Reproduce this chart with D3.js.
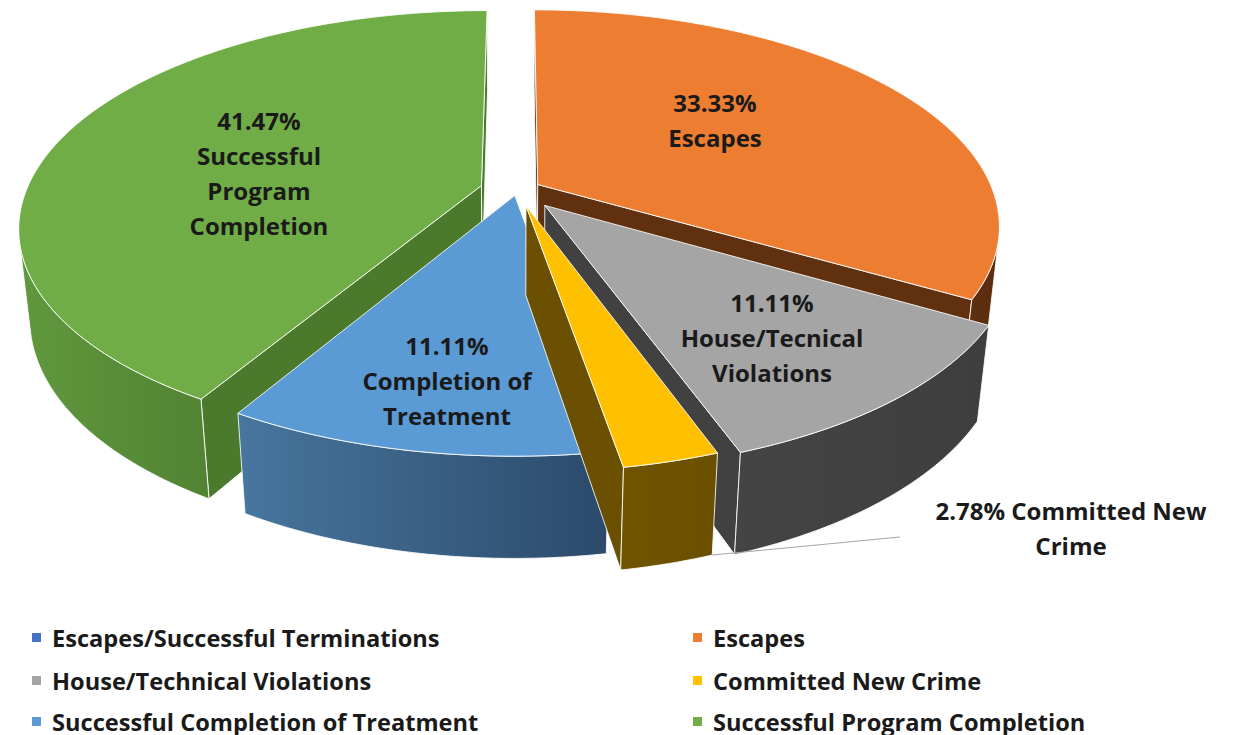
<!DOCTYPE html>
<html>
<head>
<meta charset="utf-8">
<script src="https://cdn.jsdelivr.net/npm/d3@7"></script>
<style>
  body { margin: 0; background: #fff; }
  text { font-family: "Open Sans", Lato, sans-serif; font-weight: bold; }
</style>
</head>
<body>
<div id="chart"></div>
<script>
// 3d exploded pie - outcomes

const categories = ["Escapes/Successful Terminations", "Escapes", "House/Technical Violations",
  "Committed New Crime", "Successful Completion of Treatment", "Successful Program Completion"];
const values = [0, 33.33, 11.11, 2.78, 11.11, 41.47];
const labelNames = ["", "Escapes", "House/Tecnical|Violations", "Committed New|Crime", "Completion of|Treatment",
  "Successful|Program|Completion"];
const topColors = ["#4472C4", "#ED7D31", "#A5A5A5", "#FFC000", "#5B9BD5", "#70AD47"];
// side shading: outer wall left -> right, and the cut faces
const wallLeft = ["#2F5597", "#5F2F10", "#444444", "#6F5400", "#47769F", "#61983D"];
const wallRight = ["#2F5597", "#5B2C0E", "#3E3E3E", "#6A5000", "#2C4A6A", "#518333"];
const cutColor = ["#2F5597", "#60300F", "#414141", "#6A5000", "#3A6290", "#4B7A2D"];
const explode = [0, 24, 43, 35, 12, 37];

const width = 1238, height = 735;
const cx = 517, cy = 190, R = 455, h = 102;
const phi = 27.4 * Math.PI / 180, sinP = Math.sin(phi), cosP = Math.cos(phi);
const D = 2148;

function proj(X, Y, Z) {
  const d = Z * cosP + Y * sinP;
  const s = D / (D - d);
  return [cx + X * s, cy + (Z * sinP - Y * cosP) * s];
}

const svg = d3.select("#chart").append("svg")
  .attr("width", width)
  .attr("height", height);
const defs = svg.append("defs");

const arcs = d3.pie().sort(null).value(d => d)(values);
const line = d3.line();
const edge = sel => sel.attr("stroke", "#fff").attr("stroke-opacity", 0.85).attr("stroke-width", 1);

const slices = arcs.map((a, i) => {
  const mid = (a.startAngle + a.endAngle) / 2;
  const e = explode[i];
  const ox = e * Math.sin(mid), oz = -e * Math.cos(mid);
  return {i, a0: a.startAngle, a1: a.endAngle, mid, ox, oz, depth: oz - R * Math.cos(mid), value: a.value};
}).filter(s => s.value > 0)
  .sort((p, q) => p.depth - q.depth);

function visible(nx, nz, px, pz) {
  // camera sits at (0, D sinP, D cosP)
  return nx * (0 - px) + nz * (D * cosP - pz) > 0;
}

slices.forEach(s => {
  const g = svg.append("g");
  const rim = (th, Y) => proj(s.ox + R * Math.sin(th), Y, s.oz - R * Math.cos(th));
  const apex = Y => proj(s.ox, Y, s.oz);

  // cut faces
  [[s.a0, -1], [s.a1, 1]].forEach(([a, sg]) => {
    const nx = sg * Math.cos(a), nz = sg * Math.sin(a);
    if (!visible(nx, nz, s.ox, s.oz)) return;
    g.append("path")
      .attr("d", line([apex(0), rim(a, 0), rim(a, -h), apex(-h)]) + "Z")
      .attr("fill", cutColor[s.i])
      .call(edge);
  });

  // outer wall, only the part that faces the camera
  const n = Math.ceil((s.a1 - s.a0) * 180 / Math.PI * 2);
  const step = (s.a1 - s.a0) / n;
  const vis = d3.range(n).filter(k => {
    const tm = s.a0 + (k + 0.5) * step;
    const nx = Math.sin(tm), nz = -Math.cos(tm);
    return visible(nx, nz, s.ox + R * nx, s.oz + R * nz);
  });
  if (vis.length) {
    const k0 = vis[0], k1 = vis[vis.length - 1] + 1;
    const topPts = d3.range(k0, k1 + 1).map(k => rim(s.a0 + k * step, 0));
    const botPts = d3.range(k1, k0 - 1, -1).map(k => rim(s.a0 + k * step, -h));
    const pts = topPts.concat(botPts);
    const [xmin, xmax] = d3.extent(pts, p => p[0]);
    const id = "wall" + s.i;
    const grad = defs.append("linearGradient").attr("id", id)
      .attr("gradientUnits", "userSpaceOnUse")
      .attr("x1", xmin).attr("x2", xmax).attr("y1", 0).attr("y2", 0);
    grad.append("stop").attr("offset", 0).attr("stop-color", wallLeft[s.i]);
    grad.append("stop").attr("offset", 1).attr("stop-color", wallRight[s.i]);
    g.append("path")
      .attr("d", line(pts) + "Z")
      .attr("fill", `url(#${id})`)
      .call(edge);
  }

  // top face
  const m = Math.ceil((s.a1 - s.a0) * 180 / Math.PI);
  const arcPts = d3.range(m + 1).map(k => rim(s.a0 + (s.a1 - s.a0) * k / m, 0));
  g.append("path")
    .attr("d", line([apex(0)].concat(arcPts)) + "Z")
    .attr("fill", topColors[s.i])
    .call(edge);
});

// data labels (placed by hand like in the original)
const labelPos = [null, [715, 112], [772, 312], [1071, 520], [447, 355], [259, 130]];
const lineH = 35;

// leader for the small slice
const ys = slices.find(s => s.i === 3);
const yEnd = proj(ys.ox + R * Math.sin(ys.a0), -h, ys.oz - R * Math.cos(ys.a0));
svg.append("path")
  .attr("d", line([yEnd, [900, 537]]))
  .attr("stroke", "#A6A6A6").attr("stroke-width", 1).attr("fill", "none");

values.forEach((v, i) => {
  if (!labelPos[i]) return;
  const pct = v.toFixed(2) + "%";
  let lines = labelNames[i].split("|");
  if (i === 3) lines[0] = pct + " " + lines[0];
  else lines = [pct].concat(lines);
  const t = svg.append("text")
    .attr("text-anchor", "middle")
    .attr("font-size", 24)
    .attr("fill", "#1a1a1a");
  t.selectAll("tspan")
    .data(lines)
    .join("tspan")
    .attr("x", labelPos[i][0])
    .attr("y", (d, k) => labelPos[i][1] + k * lineH)
    .text(d => d);
});

// legend, two columns
const legend = svg.append("g");
const colX = [32, 693], rowY = [647, 690, 731];
categories.forEach((c, i) => {
  const x = colX[i % 2], y = rowY[Math.floor(i / 2)];
  legend.append("rect")
    .attr("x", x).attr("y", y - 14)
    .attr("width", 9).attr("height", 9)
    .attr("fill", topColors[i]);
  legend.append("text")
    .attr("x", x + 20).attr("y", y)
    .attr("font-size", 23.6)
    .attr("fill", "#1a1a1a")
    .text(c);
});
</script>
</body>
</html>
